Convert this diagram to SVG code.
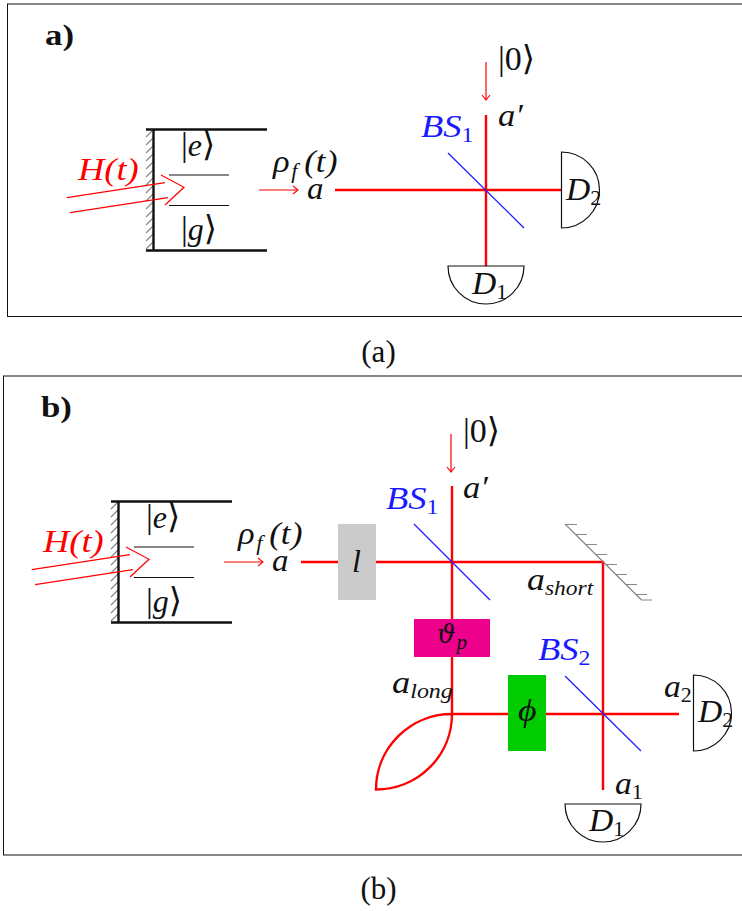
<svg xmlns="http://www.w3.org/2000/svg" xmlns:xlink="http://www.w3.org/1999/xlink" width="742" height="911" viewBox="0 0 742 911">
<style>
text{font-family:"Liberation Serif","DejaVu Serif",serif;font-size:32px;fill:#111}
.i{font-style:italic}
.s{font-size:21px;font-style:italic}
.n{font-size:21px;font-style:normal}
.k{font-size:34px}
.r{fill:#ff0000}
.b{fill:#1a1aff}
.t{font-weight:bold;font-size:29px}
.c{font-size:31px;text-anchor:middle}
.frame{fill:#fff;stroke:#111;stroke-width:1}
.beam{fill:none;stroke:#ff0000;stroke-width:2.4}
.thin{fill:none;stroke:#ff0000;stroke-width:1.2}
.bs{stroke:#2020ff;stroke-width:1.3;fill:none}
.det{fill:#fff;stroke:#111;stroke-width:1.2}
.wall{fill:none;stroke:#111;stroke-width:2.4}
.lvl{fill:none;stroke:#111;stroke-width:1.1}
.hatch{fill:none;stroke:#888;stroke-width:1.2}
</style>
<defs>
<marker id="ah" markerWidth="9" markerHeight="10" refX="7.5" refY="5" orient="auto" markerUnits="userSpaceOnUse"><path d="M2.500,1 L7.500,5 L2.500,9" fill="none" stroke="#ff0000" stroke-width="1.1"/></marker>
<g id="cavity">
<path class="hatch" d="M146,137 L153,130 M146,145 L153,138 M146,153 L153,146 M146,161 L153,154 M146,169 L153,162 M146,177 L153,170 M146,185 L153,178 M146,193 L153,186 M146,201 L153,194 M146,209 L153,202 M146,217 L153,210 M146,225 L153,218 M146,233 L153,226 M146,241 L153,234 M146,249 L153,242"/>
<path class="wall" d="M146,129.500 H267 M146,250.500 H267 M153.500,129 V251"/>
<path class="lvl" d="M169,175 H229 M169,205.500 H229"/>
<path class="thin" d="M66.700,197.700 L165,182.700 M70,212.700 L168,197.700 M161,175 L184,187.300 L165,205"/>
</g>
</defs>

<rect class="frame" x="7.500" y="4" width="740" height="312.500"/>
<rect class="frame" x="3.500" y="376" width="745" height="479"/>

<g id="connectors">
<path class="thin" marker-end="url(#ah)" d="M259,190 H298"/>
<path class="thin" marker-end="url(#ah)" d="M486,62 V100"/>
<path class="beam" d="M335,190 H562 M486,115 V266"/>
<path class="thin" marker-end="url(#ah)" d="M224,562 H263"/>
<path class="thin" marker-end="url(#ah)" d="M451,434 V472"/>
<path class="beam" d="M301,562 H338 M376,562 H603 V790 M452,486 V619 M452,657 V714 M452,714 H508 M546,714 H679"/>
<path class="beam" d="M452,714 A76,75.500 0 0 1 376,789.500 A76,75.500 0 0 1 452,714"/>
</g>

<g id="panel-a-title"><text class="t" transform="translate(45,45) scale(1.2,1)">a)</text></g>
<g id="cavity-a">
<use xlink:href="#cavity" href="#cavity"/>
<text x="181" y="156"><tspan class="k">|</tspan><tspan class="i">e</tspan><tspan class="k">⟩</tspan></text>
<text x="181" y="240"><tspan class="k">|</tspan><tspan class="i">g</tspan><tspan class="k">⟩</tspan></text>
<text class="i r" transform="translate(78,180) scale(1.14,1)">H(t)</text>
</g>
<g id="source-a">
<text class="i" transform="translate(273,172) scale(1.08,1)">ρ<tspan class="s" x="17" dy="6">f</tspan><tspan x="29" dy="-6">(</tspan><tspan x="39.500">t</tspan><tspan x="49">)</tspan></text>
<text class="i" transform="translate(307,199) scale(1.03,1)">a</text>
</g>
<g id="ket-a"><text class="k" x="498" y="70">|0⟩</text></g>
<g id="bs1-a">
<path class="bs" d="M448,153 L524,228"/>
<text class="i b" transform="translate(421,137) scale(1.14,1)">BS<tspan class="n" dy="5">1</tspan></text>
<text class="i" transform="translate(498,126) scale(1.08,1)">a′</text>
</g>
<g id="d2-a">
<path class="det" d="M561.500,152 A38,38 0 0 1 561.500,228 Z"/>
<text class="i" transform="translate(566,200) scale(1.05,1)">D<tspan class="n" dy="5">2</tspan></text>
</g>
<g id="d1-a">
<path class="det" d="M448,266 H524 A38,38 0 0 1 448,266 Z"/>
<text class="i" transform="translate(472,294) scale(1.05,1)">D<tspan class="n" dy="5">1</tspan></text>
</g>
<g id="caption-a"><text class="c" x="378.500" y="362">(a)</text></g>

<g id="panel-b-title"><text class="t" transform="translate(41,417) scale(1.2,1)">b)</text></g>
<g id="cavity-b">
<use xlink:href="#cavity" href="#cavity" transform="translate(-35,372)"/>
<text x="146" y="528"><tspan class="k">|</tspan><tspan class="i">e</tspan><tspan class="k">⟩</tspan></text>
<text x="146" y="612"><tspan class="k">|</tspan><tspan class="i">g</tspan><tspan class="k">⟩</tspan></text>
<text class="i r" transform="translate(43,552) scale(1.14,1)">H(t)</text>
</g>
<g id="source-b">
<text class="i" transform="translate(238,544) scale(1.08,1)">ρ<tspan class="s" x="17" dy="6">f</tspan><tspan x="29" dy="-6">(</tspan><tspan x="39.500">t</tspan><tspan x="49">)</tspan></text>
<text class="i" transform="translate(272,571) scale(1.03,1)">a</text>
</g>
<g id="delay-l">
<rect x="338" y="524" width="38" height="76" fill="#cbcbcb"/>
<text class="i" x="352" y="572">l</text>
</g>
<g id="ket-b"><text class="k" x="463" y="442">|0⟩</text></g>
<g id="bs1-b">
<path class="bs" d="M414,524 L490,600"/>
<text class="i b" transform="translate(386,509) scale(1.14,1)">BS<tspan class="n" dy="5">1</tspan></text>
<text class="i" transform="translate(463,498) scale(1.08,1)">a′</text>
</g>
<g id="mirror">
<path class="hatch" d="M565,524 L641.500,600 M565,524.500 H577 M575,534.500 H587 M585,544.500 H597 M595,554.500 H607 M605,564.500 H617 M615,574.500 H627 M625,584.500 H637 M635,594.500 H647 M641.500,600 H652"/>
<text class="i" transform="translate(527,590) scale(1.12,1)">a<tspan class="s" dy="5">short</tspan></text>
</g>
<g id="phase-p">
<rect x="414" y="619" width="76" height="38" fill="#ec008c"/>
<text class="i" x="437" y="643" style="font-family:'DejaVu Serif',serif;font-size:26px">ϑ<tspan class="s" dx="1" dy="6" style="font-family:'Liberation Serif',serif">p</tspan></text>
</g>
<g id="lens">
<text class="i" transform="translate(392,693) scale(1.14,1)">a<tspan class="s" dy="5">long</tspan></text>
</g>
<g id="phase-phi">
<rect x="508" y="675" width="38" height="76" fill="#00cc00"/>
<text class="i" transform="translate(518,721) scale(1.12,1)">ϕ</text>
</g>
<g id="bs2">
<path class="bs" d="M565,676 L641,751"/>
<text class="i b" transform="translate(538,660) scale(1.14,1)">BS<tspan class="n" dy="5">2</tspan></text>
</g>
<g id="d2-b">
<text class="i" transform="translate(664,697) scale(1.05,1)">a<tspan class="n" dy="5">2</tspan></text>
<path class="det" d="M693.500,675 A38,38 0 0 1 693.500,751 Z"/>
<text class="i" transform="translate(698,722) scale(1.05,1)">D<tspan class="n" dy="5">2</tspan></text>
</g>
<g id="d1-b">
<text class="i" transform="translate(615,794) scale(1.05,1)">a<tspan class="n" dy="5">1</tspan></text>
<path class="det" d="M565,804 H641 A38,38 0 0 1 565,804 Z"/>
<text class="i" transform="translate(589,831) scale(1.05,1)">D<tspan class="n" dy="5">1</tspan></text>
</g>
<g id="caption-b"><text class="c" x="378.500" y="899">(b)</text></g>
</svg>
